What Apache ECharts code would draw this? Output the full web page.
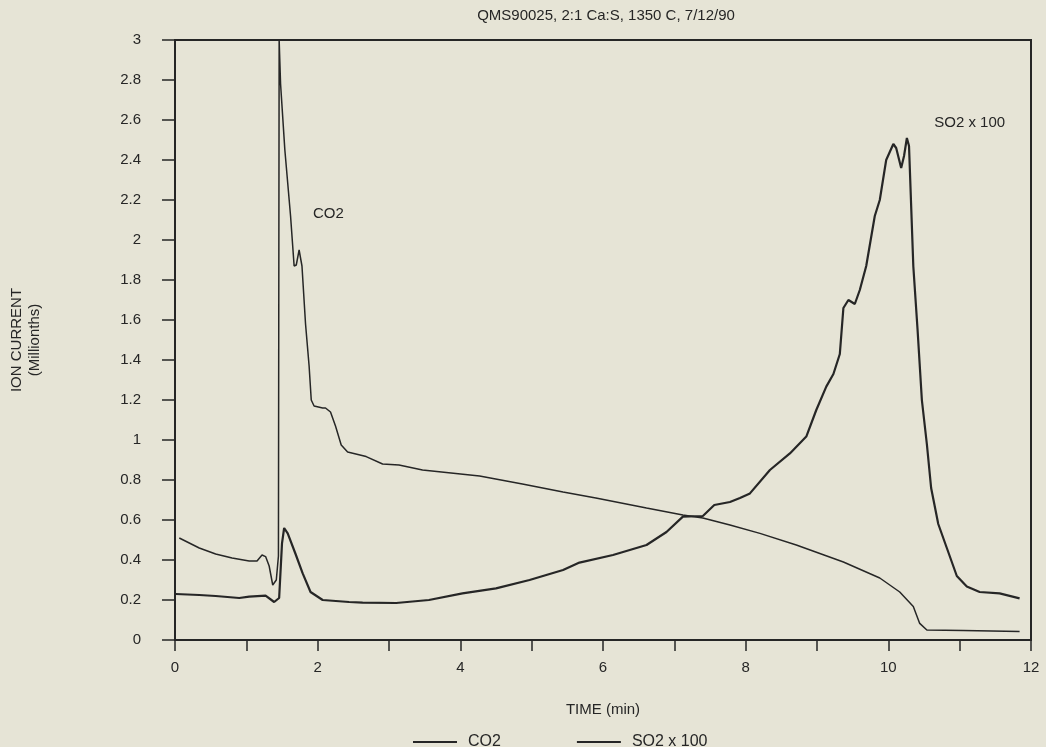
<!DOCTYPE html>
<html>
<head>
<meta charset="utf-8">
<script src="https://cdn.jsdelivr.net/npm/echarts@6.0.0/dist/echarts.min.js"></script>
<style>
  html, body { margin: 0; padding: 0; background: #e6e4d6; }
  #chart { width: 1046px; height: 747px; }
</style>
</head>
<body>
<div id="chart"></div>
<script>
// values: [time (min), ion current]
const co2Data = [
  [0.06, 0.51], [0.34, 0.46], [0.57, 0.43], [0.80, 0.41], [1.04, 0.395], [1.15, 0.395],
  [1.22, 0.425], [1.27, 0.417], [1.32, 0.37], [1.37, 0.275], [1.42, 0.30], [1.45, 0.42],
  [1.46, 3.0], [1.48, 2.78], [1.54, 2.45], [1.62, 2.12], [1.67, 1.87], [1.70, 1.875],
  [1.74, 1.95], [1.78, 1.87], [1.83, 1.58], [1.88, 1.37], [1.91, 1.20], [1.95, 1.17],
  [2.07, 1.16], [2.11, 1.16], [2.18, 1.14], [2.25, 1.07], [2.33, 0.975], [2.42, 0.94],
  [2.68, 0.917], [2.91, 0.88], [3.14, 0.875], [3.47, 0.85], [4.27, 0.82], [4.87, 0.78],
  [5.44, 0.74], [5.90, 0.71], [6.61, 0.66], [7.12, 0.625], [7.40, 0.61], [7.78, 0.575],
  [8.20, 0.533], [8.71, 0.475], [9.37, 0.39], [9.88, 0.31], [10.16, 0.24], [10.35, 0.167],
  [10.44, 0.083], [10.54, 0.05], [11.05, 0.047], [11.84, 0.042]
];

const so2Data = [
  [0.01, 0.23], [0.34, 0.225], [0.57, 0.22], [0.90, 0.21], [1.04, 0.217], [1.27, 0.222],
  [1.39, 0.19], [1.46, 0.21], [1.50, 0.483], [1.53, 0.56], [1.58, 0.533], [1.69, 0.43],
  [1.79, 0.333], [1.90, 0.24], [2.07, 0.20], [2.44, 0.19], [2.63, 0.187], [3.10, 0.185],
  [3.56, 0.20], [4.03, 0.233], [4.50, 0.258], [4.97, 0.30], [5.44, 0.35], [5.67, 0.387],
  [6.14, 0.425], [6.61, 0.475], [6.89, 0.54], [7.12, 0.617], [7.40, 0.62], [7.56, 0.675],
  [7.78, 0.69], [7.92, 0.71], [8.06, 0.733], [8.34, 0.85], [8.62, 0.933], [8.85, 1.017],
  [8.99, 1.15], [9.13, 1.267], [9.23, 1.33], [9.32, 1.43], [9.37, 1.66], [9.44, 1.70],
  [9.53, 1.68], [9.60, 1.75], [9.69, 1.87], [9.81, 2.12], [9.88, 2.20], [9.97, 2.40],
  [10.07, 2.48], [10.11, 2.46], [10.18, 2.36], [10.22, 2.42], [10.26, 2.51], [10.29, 2.47],
  [10.35, 1.87], [10.41, 1.55], [10.47, 1.20], [10.54, 0.98], [10.60, 0.76], [10.70, 0.58],
  [10.82, 0.46], [10.96, 0.32], [11.10, 0.267], [11.28, 0.24], [11.56, 0.233], [11.84, 0.208]
];

const seriesNames = ["CO2", "SO2 x 100"];
const co2LabelAt = [2.15, 2.13];
const so2LabelAt = [11.14, 2.585];

const ink = "#262626";
const font = "Liberation Sans, Arial, sans-serif";

const chart = echarts.init(document.getElementById("chart"));

const option = {
  animation: false,
  backgroundColor: "#e6e4d6",
  textStyle: {fontFamily: font, color: ink},
  title: {
    text: "QMS90025, 2:1 Ca:S, 1350 C, 7/12/90",
    left: 601,
    textAlign: "center",
    top: 3,
    textStyle: {fontSize: 15, fontWeight: "normal", color: ink, fontFamily: font},
  },
  legend: {
    data: seriesNames.map((n) => ({name: n, icon: "rect"})),
    left: 408,
    top: 729,
    itemWidth: 44,
    itemHeight: 2,
    itemGap: 76,
    textStyle: {fontSize: 16, color: ink, fontFamily: font, padding: [0, 0, 0, 6]},
  },
  grid: {
    left: 175, right: 15, top: 40, bottom: 107,
    show: true, borderColor: ink, borderWidth: 2, backgroundColor: "transparent",
  },
  xAxis: {
    type: "value",
    min: 0, max: 12, interval: 1,
    name: "TIME (min)",
    nameLocation: "middle",
    nameGap: 62,
    nameTextStyle: {fontSize: 15, color: ink},
    axisLine: {show: true, onZero: false, lineStyle: {color: ink, width: 2}},
    axisTick: {show: true, length: 11, lineStyle: {color: ink, width: 1.5}},
    axisLabel: {
      margin: 20, fontSize: 15, color: ink,
      formatter: (v) => (v % 2 === 0 ? String(v) : ""),
    },
    splitLine: {show: false},
  },
  yAxis: {
    type: "value",
    min: 0, max: 3, interval: 0.2,
    name: "ION CURRENT\n(Millionths)",
    nameLocation: "middle",
    nameRotate: 90,
    nameGap: 131,
    nameTextStyle: {fontSize: 15, color: ink, lineHeight: 18, align: "center"},
    axisLine: {show: true, lineStyle: {color: ink, width: 1.5}},
    axisTick: {show: true, length: 13, lineStyle: {color: ink, width: 1.5}},
    axisLabel: {margin: 34, fontSize: 15, color: ink},
    splitLine: {show: false},
  },
  series: [
    {
      name: seriesNames[0],
      type: "line",
      data: co2Data,
      symbol: "none",
      lineStyle: {color: ink, width: 1.5},
      itemStyle: {color: ink},
      markPoint: {
        symbol: "circle", symbolSize: 0,
        label: {show: true, position: "inside", formatter: "CO2", fontSize: 15, color: ink},
        data: [{coord: co2LabelAt}],
      },
    },
    {
      name: seriesNames[1],
      type: "line",
      data: so2Data,
      symbol: "none",
      lineStyle: {color: ink, width: 2.2},
      itemStyle: {color: ink},
      markPoint: {
        symbol: "circle", symbolSize: 0,
        label: {show: true, position: "inside", formatter: "SO2 x 100", fontSize: 15, color: ink},
        data: [{coord: so2LabelAt}],
      },
    },
  ],
};

chart.setOption(option);
</script>
</body>
</html>
